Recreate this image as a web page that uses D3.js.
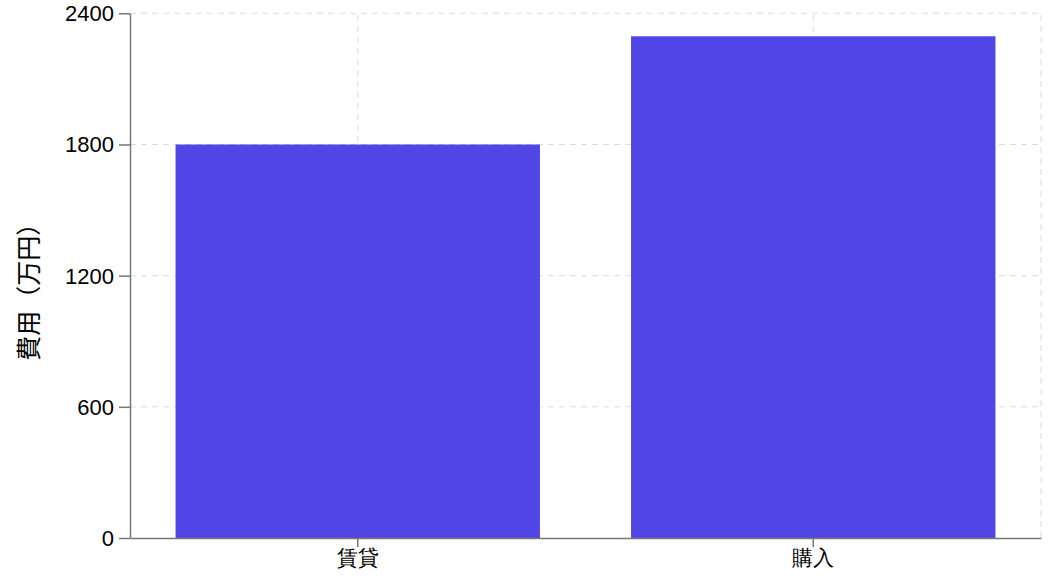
<!DOCTYPE html>
<html>
<head>
<meta charset="utf-8">
<script src="https://cdn.jsdelivr.net/npm/d3@7"></script>
<style>
  html, body { margin: 0; padding: 0; background: #fff; }
  svg { display: block; font-family: "Noto Sans CJK JP", "Noto Sans", sans-serif; }
</style>
</head>
<body>
<svg id="chart" width="1058" height="582"></svg>
<script>
// chart data
const categories = ['賃貸', '購入'];
const costs = [1800, 2295];
const yTicks = [0, 600, 1200, 1800, 2400];
const yLabel = '費用（万円）';

const width = 1058, height = 582;
const margin = { top: 13.3, right: 17, bottom: 44, left: 130 };

const svg = d3.select('#chart');

const x = d3.scaleBand()
  .domain(categories)
  .range([margin.left, width - margin.right])
  .paddingInner(0.2)
  .paddingOuter(0.1);

const y = d3.scaleLinear()
  .domain([0, 2400])
  .range([height - margin.bottom, margin.top]);

// grid
const grid = svg.append('g')
  .attr('stroke', '#dcdcdc')
  .attr('stroke-width', 1)
  .attr('stroke-dasharray', '6 5');

grid.selectAll('line.h')
  .data(yTicks.filter(d => d > 0))
  .enter().append('line')
  .attr('class', 'h')
  .attr('x1', margin.left)
  .attr('x2', width - margin.right)
  .attr('y1', d => y(d))
  .attr('y2', d => y(d));

grid.selectAll('line.v')
  .data(categories)
  .enter().append('line')
  .attr('class', 'v')
  .attr('x1', d => x(d) + x.bandwidth() / 2)
  .attr('x2', d => x(d) + x.bandwidth() / 2)
  .attr('y1', y(0))
  .attr('y2', margin.top);

// right border
grid.append('line')
  .attr('x1', width - margin.right)
  .attr('x2', width - margin.right)
  .attr('y1', y(0))
  .attr('y2', margin.top);

// bars
svg.append('g')
  .selectAll('rect')
  .data(categories)
  .enter().append('rect')
  .attr('x', d => x(d))
  .attr('y', (d, i) => y(costs[i]))
  .attr('width', x.bandwidth())
  .attr('height', (d, i) => y(0) - y(costs[i]))
  .attr('fill', '#5046e5');

// axes
const yAxis = svg.append('g')
  .attr('transform', `translate(${margin.left},0)`)
  .call(d3.axisLeft(y).tickValues(yTicks).tickFormat(d3.format('d'))
    .tickSize(11).tickPadding(5).tickSizeOuter(0));

const xAxis = svg.append('g')
  .attr('transform', `translate(0,${y(0)})`)
  .call(d3.axisBottom(x).tickSize(9).tickPadding(3).tickSizeOuter(0));

[yAxis, xAxis].forEach(a => {
  a.selectAll('path, line').attr('stroke', '#777').attr('stroke-width', 1.5);
  a.selectAll('text').attr('fill', '#000');
});
yAxis.selectAll('text').style('font-size', '22px').attr('dy', '0.34em');
xAxis.selectAll('text').style('font-size', '21px');

// y label
svg.append('text')
  .attr('transform', `translate(27,${(y(0) + margin.top) / 2 + 10}) rotate(-90)`)
  .attr('text-anchor', 'middle')
  .attr('dominant-baseline', 'central')
  .style('font-size', '25px')
  .attr('fill', '#000')
  .text(yLabel);
</script>
</body>
</html>
